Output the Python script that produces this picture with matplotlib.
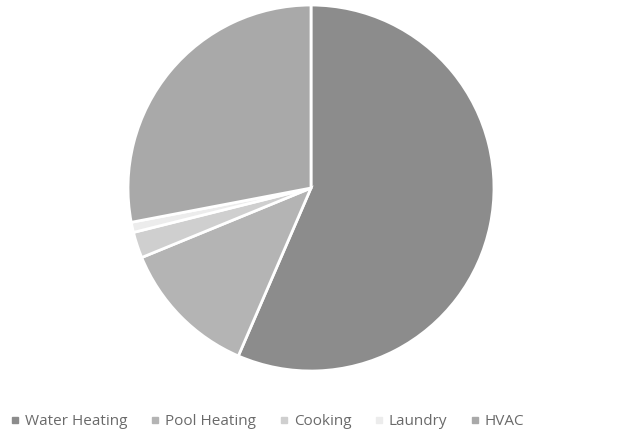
import matplotlib.pyplot as plt
from matplotlib.lines import Line2D

labels = ["Water Heating", "Pool Heating", "Cooking", "Laundry", "HVAC"]
shares = [56.5, 12.3, 2.3, 0.9, 28.0]  # percent
colors = ["#8c8c8c", "#b4b4b4", "#cfcfcf", "#ececec", "#a9a9a9"]

plt.rcParams["font.family"] = ["Open Sans", "DejaVu Sans"]

fig = plt.figure(figsize=(6.25, 4.37), dpi=100)
ax = fig.add_axes([0.2048, 0.151, 0.5856, 0.8375])

ax.pie(shares, colors=colors, startangle=90, counterclock=False,
       wedgeprops=dict(edgecolor="white", linewidth=2))
ax.set_xlim(-1.0, 1.0)
ax.set_ylim(-1.0, 1.0)
ax.set_aspect("equal")
ax.axis("off")

# legend at the bottom, small square markers like Excel
handles = [Line2D([0], [0], marker="s", linestyle="none", markersize=4.5,
                  markerfacecolor=c, markeredgecolor=c) for c in colors]
fig.legend(handles, labels, loc="center", bbox_to_anchor=(0.428, 0.035),
           ncol=5, frameon=False, fontsize=11, handlelength=0.6,
           handletextpad=0.35, columnspacing=1.5, labelcolor="#6a6a6a")

fig.savefig("out.png", dpi=100)
